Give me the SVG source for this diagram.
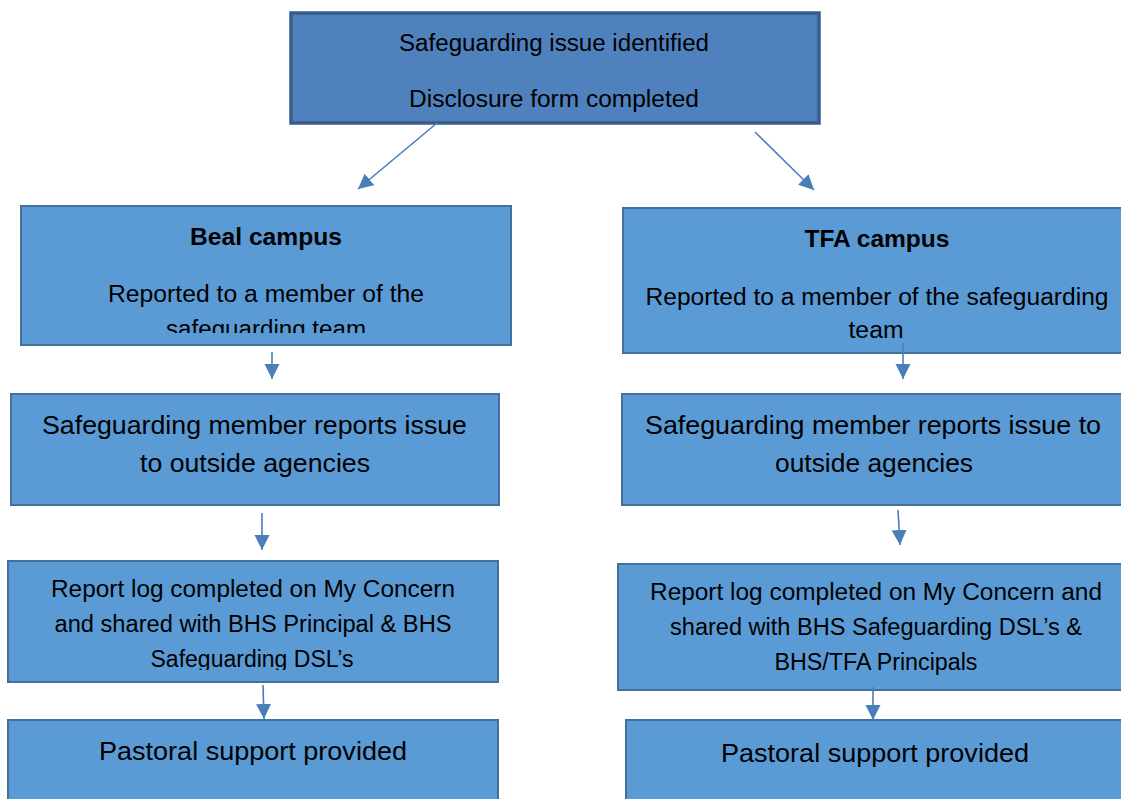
<svg xmlns="http://www.w3.org/2000/svg" width="1121" height="799" viewBox="0 0 1121 799">
<style>
.box{fill:#5b9bd5;stroke:#41719c;stroke-width:2}
.top{fill:#4f81bd;stroke:#385d8a;stroke-width:3.5}
.t{font-family:"Liberation Sans",Arial,sans-serif;fill:#000;text-anchor:middle}
.s22{font-size:23px}
.s24{font-size:26px}
.b{font-weight:bold}
.c{stroke:#4a7ebb;stroke-width:1.6;fill:none;marker-end:url(#ah)}
</style>
<defs>
<marker id="ah" viewBox="0 0 10 10" refX="10" refY="5" markerUnits="userSpaceOnUse" markerWidth="15" markerHeight="16" orient="auto">
<path d="M0,0 L10,5 L0,10 z" fill="#4a7ebb"/>
</marker>
<clipPath id="clipBeal"><rect x="21" y="206" width="490" height="127"/></clipPath>
<clipPath id="clipL3"><rect x="8" y="561" width="490" height="109"/></clipPath>
</defs>
<rect width="1121" height="799" fill="#fff"/>

<g id="n-top">
<rect class="top" x="291" y="13" width="528" height="110"/>
<text class="t s22" x="554" y="51" textLength="310" lengthAdjust="spacingAndGlyphs">Safeguarding issue identified</text>
<text class="t s22" x="554" y="107" textLength="290" lengthAdjust="spacingAndGlyphs">Disclosure form completed</text>
</g>

<g id="n-beal">
<rect class="box" x="21" y="206" width="490" height="139"/>
<g clip-path="url(#clipBeal)">
<text class="t s22 b" x="266" y="245" textLength="152" lengthAdjust="spacingAndGlyphs">Beal campus</text>
<text class="t s22" x="266" y="302" textLength="316" lengthAdjust="spacingAndGlyphs">Reported to a member of the</text>
<text class="t s22" x="266" y="337" textLength="200" lengthAdjust="spacingAndGlyphs">safeguarding team</text>
</g>
</g>

<g id="n-tfa">
<rect class="box" x="623" y="208" width="502" height="145"/>
<text class="t s22 b" x="877" y="247" textLength="145" lengthAdjust="spacingAndGlyphs">TFA campus</text>
<text class="t s22" x="877" y="305" textLength="463" lengthAdjust="spacingAndGlyphs">Reported to a member of the safeguarding</text>
<text class="t s22" x="876" y="338" textLength="55" lengthAdjust="spacingAndGlyphs">team</text>
</g>

<g id="n-beal-agencies">
<rect class="box" x="11" y="394" width="488" height="111"/>
<text class="t s24" x="254.5" y="434" textLength="425" lengthAdjust="spacingAndGlyphs">Safeguarding member reports issue</text>
<text class="t s24" x="255" y="472" textLength="230" lengthAdjust="spacingAndGlyphs">to outside agencies</text>
</g>

<g id="n-tfa-agencies">
<rect class="box" x="622" y="394" width="503" height="111"/>
<text class="t s24" x="873" y="434" textLength="456" lengthAdjust="spacingAndGlyphs">Safeguarding member reports issue to</text>
<text class="t s24" x="874" y="472" textLength="198" lengthAdjust="spacingAndGlyphs">outside agencies</text>
</g>

<g id="n-beal-log">
<rect class="box" x="8" y="561" width="490" height="121"/>
<g clip-path="url(#clipL3)">
<text class="t s22" x="253" y="597" textLength="404" lengthAdjust="spacingAndGlyphs">Report log completed on My Concern</text>
<text class="t s22" x="253" y="632" textLength="397" lengthAdjust="spacingAndGlyphs">and shared with BHS Principal &amp; BHS</text>
<text class="t s22" x="252" y="667" textLength="203" lengthAdjust="spacingAndGlyphs">Safeguarding DSL’s</text>
</g>
</g>

<g id="n-tfa-log">
<rect class="box" x="618" y="564" width="507" height="126"/>
<text class="t s22" x="876" y="600" textLength="452" lengthAdjust="spacingAndGlyphs">Report log completed on My Concern and</text>
<text class="t s22" x="876" y="635" textLength="412" lengthAdjust="spacingAndGlyphs">shared with BHS Safeguarding DSL’s &amp;</text>
<text class="t s22" x="876" y="670" textLength="203" lengthAdjust="spacingAndGlyphs">BHS/TFA Principals</text>
</g>

<g id="n-beal-pastoral">
<rect class="box" x="8" y="720" width="490" height="90"/>
<text class="t s24" x="253" y="760" textLength="308" lengthAdjust="spacingAndGlyphs">Pastoral support provided</text>
</g>

<g id="n-tfa-pastoral">
<rect class="box" x="626" y="720" width="499" height="90"/>
<text class="t s24" x="875" y="762" textLength="308" lengthAdjust="spacingAndGlyphs">Pastoral support provided</text>
</g>

<g id="connectors">
<line class="c" x1="437" y1="123" x2="358" y2="189"/>
<line class="c" x1="755" y1="132" x2="814" y2="190"/>
<line class="c" x1="272" y1="352" x2="272" y2="379"/>
<line class="c" x1="903" y1="343" x2="903" y2="379"/>
<line class="c" x1="262" y1="513" x2="262" y2="550"/>
<line class="c" x1="898" y1="510" x2="900" y2="545"/>
<line class="c" x1="263" y1="685" x2="264" y2="719"/>
<line class="c" x1="873" y1="687" x2="873" y2="720"/>
</g>
</svg>
